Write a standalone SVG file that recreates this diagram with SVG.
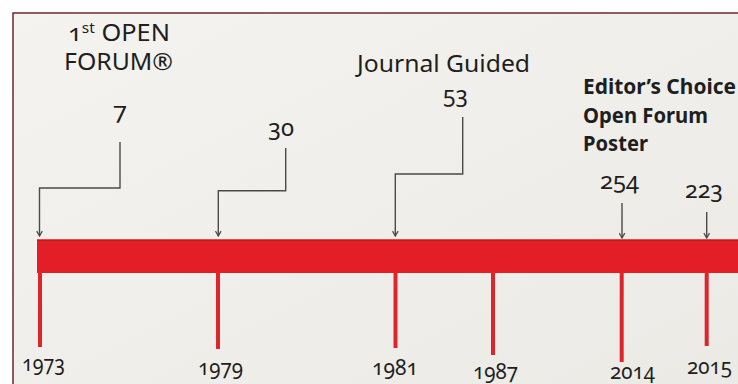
<svg xmlns="http://www.w3.org/2000/svg" width="738" height="384" viewBox="0 0 738 384">
  <defs>
    <marker id="arrow" viewBox="0 0 10 10" refX="9" refY="5" markerWidth="7" markerHeight="7" markerUnits="userSpaceOnUse" orient="auto">
      <path d="M2,1 L9,5 L2,9" fill="none" stroke="#4a4a4a" stroke-width="1.8"/>
    </marker>
    <linearGradient id="bg" x1="0" y1="0" x2="1" y2="1">
      <stop offset="0" stop-color="#f4f3f0"/>
      <stop offset="1" stop-color="#ebeae5"/>
    </linearGradient>
  </defs>
  <style>
    text { font-family: "Noto Sans", "Open Sans", "Liberation Sans", sans-serif; fill: #1e1e1e; font-variant-numeric: oldstyle-nums; }
    .title { font-size: 23px; }
    .bold { font-size: 21px; font-weight: bold; }
    .num { font-size: 23px; text-anchor: middle; }
    .year { font-size: 22px; text-anchor: middle; }
    .tick { stroke: #e0242c; stroke-width: 4; fill: none; }
    .conn { stroke: #4a4a4a; stroke-width: 1.4; fill: none; }
  </style>

  <rect x="0" y="0" width="738" height="384" fill="#ffffff"/>
  <rect x="13" y="13" width="725" height="371" fill="url(#bg)"/>
  <path d="M13,384 V13 H738" fill="none" stroke="#6e2a2a" stroke-width="1.5"/>

  <g id="timeline">
    <rect x="37" y="239.5" width="701" height="33.5" fill="#e41e26"/>
    <rect x="37" y="239.5" width="701" height="1.5" fill="#c8181f"/>
  </g>

  <g id="event-1973">
    <text class="title" x="68" y="41" textLength="102" lengthAdjust="spacingAndGlyphs">1<tspan font-size="14" dy="-8">st</tspan><tspan dy="8"> OPEN</tspan></text>
    <text class="title" x="64" y="70" textLength="109" lengthAdjust="spacingAndGlyphs">FORUM®</text>
    <text class="num" x="120" y="119" textLength="14" lengthAdjust="spacingAndGlyphs">7</text>
    <line class="tick" x1="40" y1="272" x2="40" y2="347"/>
    <text class="year" x="43.5" y="371" textLength="43" lengthAdjust="spacingAndGlyphs">1973</text>
  </g>

  <g id="event-1979">
    <text class="num" x="281" y="136" textLength="26" lengthAdjust="spacingAndGlyphs">30</text>
    <line class="tick" x1="218" y1="272" x2="218" y2="349"/>
    <text class="year" x="220.5" y="374.5" textLength="45" lengthAdjust="spacingAndGlyphs">1979</text>
  </g>

  <g id="event-1981">
    <text class="title" x="357" y="72" font-size="24" textLength="173" lengthAdjust="spacingAndGlyphs">Journal Guided</text>
    <text class="num" x="455.5" y="103" textLength="25" lengthAdjust="spacingAndGlyphs">53</text>
    <line class="tick" x1="395.5" y1="272" x2="395.5" y2="348"/>
    <text class="year" x="395" y="374.5" textLength="46" lengthAdjust="spacingAndGlyphs">1981</text>
  </g>

  <g id="event-1987">
    <line class="tick" x1="493" y1="272" x2="493" y2="355"/>
    <text class="year" x="495.5" y="378.5" textLength="45" lengthAdjust="spacingAndGlyphs">1987</text>
  </g>

  <g id="event-2014">
    <text class="bold" x="583" y="94" textLength="153" lengthAdjust="spacingAndGlyphs">Editor’s Choice</text>
    <text class="bold" x="583" y="122.5" textLength="125" lengthAdjust="spacingAndGlyphs">Open Forum</text>
    <text class="bold" x="583" y="151" textLength="65" lengthAdjust="spacingAndGlyphs">Poster</text>
    <text class="num" x="619.5" y="189" textLength="39" lengthAdjust="spacingAndGlyphs">254</text>
    <line class="tick" x1="621.7" y1="272" x2="621.7" y2="362"/>
    <text class="year" x="632.5" y="378.5" textLength="45" lengthAdjust="spacingAndGlyphs">2014</text>
  </g>

  <g id="event-2015">
    <text class="num" x="704" y="197.5" textLength="38" lengthAdjust="spacingAndGlyphs">223</text>
    <line class="tick" x1="706.7" y1="272" x2="706.7" y2="346"/>
    <text class="year" x="709.5" y="373.5" textLength="45" lengthAdjust="spacingAndGlyphs">2015</text>
  </g>

  <g id="connectors">
    <path class="conn" d="M120,142 V188 H39.5 V236" marker-end="url(#arrow)"/>
    <path class="conn" d="M285.7,148 V190.7 H218.3 V236" marker-end="url(#arrow)"/>
    <path class="conn" d="M462.7,117 V174 H395.3 V236" marker-end="url(#arrow)"/>
    <path class="conn" d="M622,203 V238" marker-end="url(#arrow)"/>
    <path class="conn" d="M706.7,212 V238" marker-end="url(#arrow)"/>
  </g>
</svg>
